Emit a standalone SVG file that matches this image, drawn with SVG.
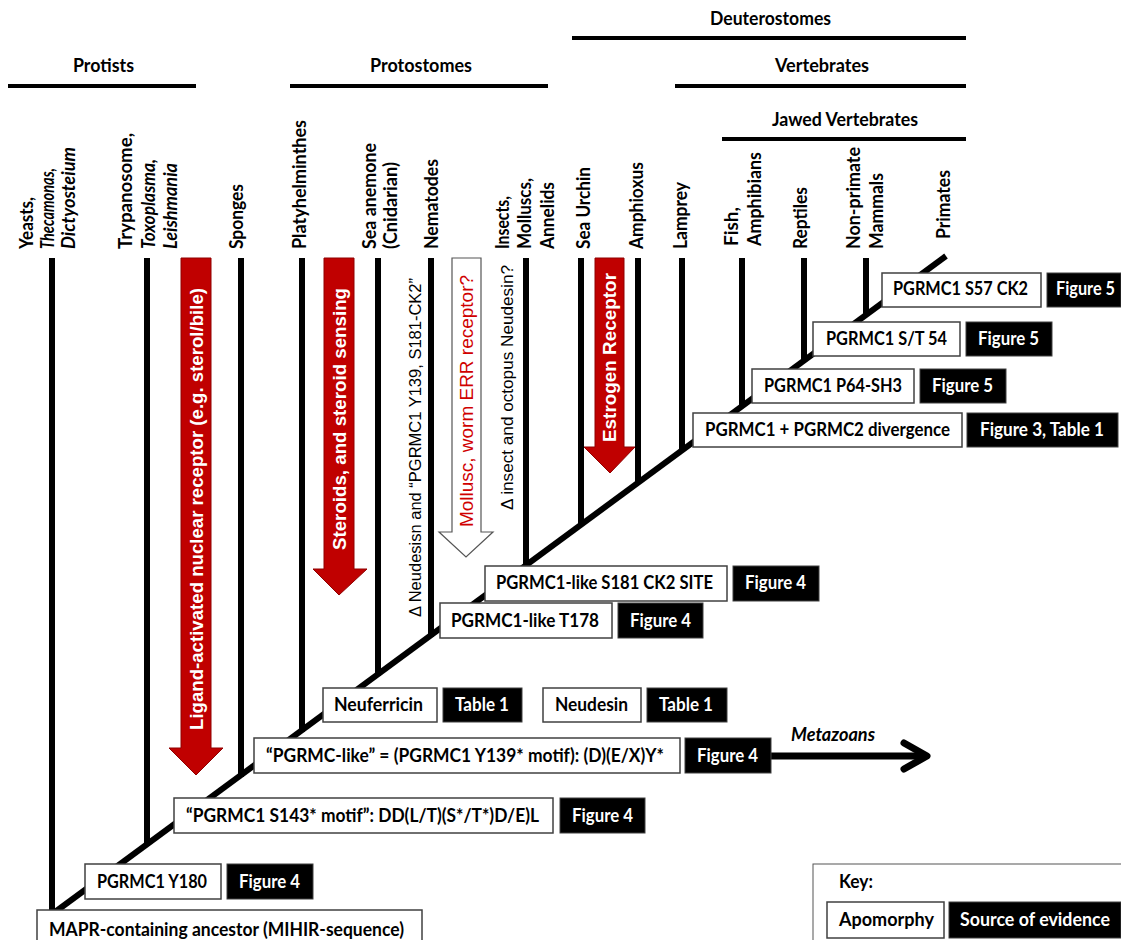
<svg xmlns="http://www.w3.org/2000/svg" width="1121" height="940" viewBox="0 0 1121 940">
<style>
.t{font-family:Lato,'Liberation Sans',sans-serif;font-weight:bold;font-size:18px;fill:#000}
.it{font-style:italic}
.w{fill:#fff}
.a{font-family:'Liberation Sans',Arial,sans-serif;font-size:18px}
.ab{font-weight:bold;fill:#fff}
.box{fill:#fff;stroke:#404040;stroke-width:1.5}
.blk{fill:#000;stroke:#404040;stroke-width:1}
.br{stroke:#000;stroke-width:6;fill:none}
.hd{stroke:#000;stroke-width:4}
.red{fill:#C00000;stroke:#900000;stroke-width:1}
</style>
<rect width="1121" height="940" fill="#fff"/>

<g id="headers">
<text class="t" x="73" y="72" textLength="61" lengthAdjust="spacingAndGlyphs">Protists</text>
<line class="hd" x1="8" y1="86" x2="196" y2="86"/>
<text class="t" x="370" y="72" textLength="102" lengthAdjust="spacingAndGlyphs">Protostomes</text>
<line class="hd" x1="290" y1="86" x2="548" y2="86"/>
<text class="t" x="710" y="25" textLength="121" lengthAdjust="spacingAndGlyphs">Deuterostomes</text>
<line class="hd" x1="572" y1="38" x2="966" y2="38"/>
<text class="t" x="775" y="72" textLength="94" lengthAdjust="spacingAndGlyphs">Vertebrates</text>
<line class="hd" x1="675" y1="86" x2="966" y2="86"/>
<text class="t" x="772" y="126" textLength="146" lengthAdjust="spacingAndGlyphs">Jawed Vertebrates</text>
<line class="hd" x1="722" y1="139" x2="966" y2="139"/>
</g>

<g id="connectors">
<line class="br" x1="55" y1="912" x2="946" y2="256"/>
<line class="br" x1="52" y1="258" x2="52" y2="914"/>
<line class="br" x1="147" y1="258" x2="147" y2="846"/>
<line class="br" x1="241" y1="258" x2="241" y2="777"/>
<line class="br" x1="302" y1="258" x2="302" y2="732"/>
<line class="br" x1="378" y1="258" x2="378" y2="676"/>
<line class="br" x1="431" y1="258" x2="431" y2="637"/>
<line class="br" x1="526" y1="258" x2="526" y2="567"/>
<line class="br" x1="581" y1="258" x2="581" y2="526"/>
<line class="br" x1="638" y1="258" x2="638" y2="484"/>
<line class="br" x1="682" y1="258" x2="682" y2="451"/>
<line class="br" x1="742" y1="258" x2="742" y2="407"/>
<line class="br" x1="804" y1="258" x2="804" y2="362"/>
<line class="br" x1="866" y1="258" x2="866" y2="316"/>
<path d="M771 756 H924" stroke="#000" stroke-width="7" fill="none"/>
<path d="M904 743 L927 756 L904 769" stroke="#000" stroke-width="7" fill="none" stroke-linecap="round" stroke-linejoin="round"/>
</g>

<g id="taxa">
<g id="yeasts">
<text class="t" transform="translate(33,249) rotate(-90)" textLength="52" lengthAdjust="spacingAndGlyphs">Yeasts,</text>
<text class="t it" transform="translate(54,249) rotate(-90)" textLength="81" lengthAdjust="spacingAndGlyphs">Thecamonas,</text>
<text class="t it" transform="translate(75,249) rotate(-90)" textLength="102" lengthAdjust="spacingAndGlyphs">Dictyosteium</text>
</g>
<g id="trypanosome">
<text class="t" transform="translate(132,249) rotate(-90)" textLength="116" lengthAdjust="spacingAndGlyphs">Trypanosome,</text>
<text class="t it" transform="translate(154.5,249) rotate(-90)" textLength="90" lengthAdjust="spacingAndGlyphs">Toxoplasma,</text>
<text class="t it" transform="translate(177,249) rotate(-90)" textLength="86" lengthAdjust="spacingAndGlyphs">Leishmania</text>
</g>
<g id="sponges"><text class="t" transform="translate(243,249) rotate(-90)" textLength="65" lengthAdjust="spacingAndGlyphs">Sponges</text></g>
<g id="platyhelminthes"><text class="t" transform="translate(306,249) rotate(-90)" textLength="129" lengthAdjust="spacingAndGlyphs">Platyhelminthes</text></g>
<g id="sea-anemone">
<text class="t" transform="translate(375.5,249) rotate(-90)" textLength="106" lengthAdjust="spacingAndGlyphs">Sea anemone</text>
<text class="t" transform="translate(397,249) rotate(-90)" textLength="87" lengthAdjust="spacingAndGlyphs">(Cnidarian)</text>
</g>
<g id="nematodes"><text class="t" transform="translate(437.5,249) rotate(-90)" textLength="90" lengthAdjust="spacingAndGlyphs">Nematodes</text></g>
<g id="insects">
<text class="t" transform="translate(509,249) rotate(-90)" textLength="53" lengthAdjust="spacingAndGlyphs">Insects,</text>
<text class="t" transform="translate(530.5,249) rotate(-90)" textLength="71" lengthAdjust="spacingAndGlyphs">Molluscs,</text>
<text class="t" transform="translate(553.5,249) rotate(-90)" textLength="67" lengthAdjust="spacingAndGlyphs">Annelids</text>
</g>
<g id="sea-urchin"><text class="t" transform="translate(590,249) rotate(-90)" textLength="82" lengthAdjust="spacingAndGlyphs">Sea Urchin</text></g>
<g id="amphioxus"><text class="t" transform="translate(643,249) rotate(-90)" textLength="87" lengthAdjust="spacingAndGlyphs">Amphioxus</text></g>
<g id="lamprey"><text class="t" transform="translate(687,249) rotate(-90)" textLength="67" lengthAdjust="spacingAndGlyphs">Lamprey</text></g>
<g id="fish">
<text class="t" transform="translate(738,246) rotate(-90)" textLength="39" lengthAdjust="spacingAndGlyphs">Fish,</text>
<text class="t" transform="translate(760.5,246) rotate(-90)" textLength="94" lengthAdjust="spacingAndGlyphs">Amphibians</text>
</g>
<g id="reptiles"><text class="t" transform="translate(807,249) rotate(-90)" textLength="62" lengthAdjust="spacingAndGlyphs">Reptiles</text></g>
<g id="mammals">
<text class="t" transform="translate(859.5,249) rotate(-90)" textLength="102" lengthAdjust="spacingAndGlyphs">Non-primate</text>
<text class="t" transform="translate(882.5,249) rotate(-90)" textLength="76" lengthAdjust="spacingAndGlyphs">Mammals</text>
</g>
<g id="primates"><text class="t" transform="translate(950,239) rotate(-90)" textLength="69" lengthAdjust="spacingAndGlyphs">Primates</text></g>
</g>

<g id="arrow-ligand">
<path class="red" d="M181 258 H211 V748 H223 L196 775 L169 748 H181 Z"/>
<text class="a ab" transform="translate(203,730) rotate(-90)" textLength="442" lengthAdjust="spacingAndGlyphs">Ligand-activated nuclear receptor (e.g.  sterol/bile)</text>
</g>
<g id="arrow-steroids">
<path class="red" d="M324 258 H354 V569 H367 L339 595 L313 569 H324 Z"/>
<text class="a ab" transform="translate(346,550) rotate(-90)" textLength="262" lengthAdjust="spacingAndGlyphs">Steroids, and steroid sensing</text>
</g>
<g id="note-neudesin">
<text class="a" style="font-size:16px" transform="translate(421,617) rotate(-90)" textLength="339" lengthAdjust="spacingAndGlyphs">Δ Neudesisn and “PGRMC1  Y139, S181-CK2”</text>
</g>
<g id="arrow-err">
<path d="M452 258 H481 V532 H493 L466 557 L439 532 H452 Z" fill="#fff" stroke="#555" stroke-width="1.2"/>
<text class="a" style="fill:#D00000" transform="translate(473,527) rotate(-90)" textLength="252" lengthAdjust="spacingAndGlyphs">Mollusc, worm ERR  receptor?</text>
</g>
<g id="note-insect">
<text class="a" style="font-size:17px" transform="translate(513,510) rotate(-90)" textLength="245" lengthAdjust="spacingAndGlyphs">Δ insect and  octopus  Neudesin?</text>
</g>
<g id="arrow-estrogen">
<path class="red" d="M595 258 H624 V447 H635 L610 473 L584 447 H595 Z"/>
<text class="a ab" transform="translate(616,442) rotate(-90)" textLength="169" lengthAdjust="spacingAndGlyphs">Estrogen Receptor</text>
</g>

<g id="node-mapr">
<rect class="box" x="37" y="910" width="385" height="40"/>
<text class="t" x="49" y="936" textLength="355" lengthAdjust="spacingAndGlyphs">MAPR-containing ancestor (MIHIR-sequence)</text>
</g>
<g id="node-y180">
<rect class="box" x="85" y="864" width="136" height="35"/>
<text class="t" x="97" y="888" textLength="110" lengthAdjust="spacingAndGlyphs">PGRMC1 Y180</text>
<rect class="blk" x="227" y="864" width="86" height="35"/>
<text class="t w" x="239" y="888" textLength="61" lengthAdjust="spacingAndGlyphs">Figure 4</text>
</g>
<g id="node-s143">
<rect class="box" x="174" y="798" width="379" height="35"/>
<text class="t" x="186" y="822" textLength="353" lengthAdjust="spacingAndGlyphs">“PGRMC1 S143* motif”: DD(L/T)(S*/T*)D/E)L</text>
<rect class="blk" x="560" y="798" width="85" height="35"/>
<text class="t w" x="572" y="822" textLength="61" lengthAdjust="spacingAndGlyphs">Figure 4</text>
</g>
<g id="node-pgrmc-like">
<rect class="box" x="254" y="738" width="426" height="35"/>
<text class="t" x="266" y="762" textLength="398" lengthAdjust="spacingAndGlyphs">“PGRMC-like” = (PGRMC1 Y139* motif): (D)(E/X)Y*</text>
<rect class="blk" x="685" y="738" width="86" height="35"/>
<text class="t w" x="697" y="762" textLength="61" lengthAdjust="spacingAndGlyphs">Figure 4</text>
</g>
<g id="node-metazoans">
<text class="t it" x="791" y="741" textLength="84" lengthAdjust="spacingAndGlyphs">Metazoans</text>
</g>
<g id="node-neuferricin">
<rect class="box" x="323" y="688" width="114" height="34"/>
<text class="t" x="334" y="711" textLength="89" lengthAdjust="spacingAndGlyphs">Neuferricin</text>
<rect class="blk" x="443" y="688" width="79" height="34"/>
<text class="t w" x="455" y="711" textLength="54" lengthAdjust="spacingAndGlyphs">Table 1</text>
</g>
<g id="node-neudesin">
<rect class="box" x="543" y="688" width="98" height="34"/>
<text class="t" x="555" y="711" textLength="73" lengthAdjust="spacingAndGlyphs">Neudesin</text>
<rect class="blk" x="647" y="688" width="80" height="34"/>
<text class="t w" x="659" y="711" textLength="54" lengthAdjust="spacingAndGlyphs">Table 1</text>
</g>
<g id="node-t178">
<rect class="box" x="440" y="603" width="172" height="35"/>
<text class="t" x="451" y="627" textLength="148" lengthAdjust="spacingAndGlyphs">PGRMC1-like  T178</text>
<rect class="blk" x="618" y="603" width="85" height="35"/>
<text class="t w" x="630" y="627" textLength="61" lengthAdjust="spacingAndGlyphs">Figure 4</text>
</g>
<g id="node-s181">
<rect class="box" x="485" y="566" width="242" height="35"/>
<text class="t" x="496" y="589" textLength="217" lengthAdjust="spacingAndGlyphs">PGRMC1-like  S181 CK2 SITE</text>
<rect class="blk" x="733" y="566" width="86" height="35"/>
<text class="t w" x="745" y="589" textLength="61" lengthAdjust="spacingAndGlyphs">Figure 4</text>
</g>
<g id="node-divergence">
<rect class="box" x="693" y="413" width="269" height="34"/>
<text class="t" x="705" y="436" textLength="245" lengthAdjust="spacingAndGlyphs">PGRMC1 + PGRMC2 divergence</text>
<rect class="blk" x="967" y="413" width="151" height="34"/>
<text class="t w" x="980" y="436" textLength="124" lengthAdjust="spacingAndGlyphs">Figure 3, Table 1</text>
</g>
<g id="node-p64">
<rect class="box" x="752" y="369" width="162" height="34"/>
<text class="t" x="764" y="392" textLength="138" lengthAdjust="spacingAndGlyphs">PGRMC1 P64-SH3</text>
<rect class="blk" x="920" y="369" width="86" height="34"/>
<text class="t w" x="932" y="392" textLength="61" lengthAdjust="spacingAndGlyphs">Figure 5</text>
</g>
<g id="node-st54">
<rect class="box" x="813" y="322" width="147" height="34"/>
<text class="t" x="826" y="345" textLength="121" lengthAdjust="spacingAndGlyphs">PGRMC1 S/T 54</text>
<rect class="blk" x="966" y="322" width="86" height="34"/>
<text class="t w" x="978" y="345" textLength="61" lengthAdjust="spacingAndGlyphs">Figure 5</text>
</g>
<g id="node-s57">
<rect class="box" x="882" y="273" width="159" height="34"/>
<text class="t" x="893" y="295" textLength="135" lengthAdjust="spacingAndGlyphs">PGRMC1 S57 CK2</text>
<rect class="blk" x="1047" y="273" width="74" height="34"/>
<text class="t w" x="1056" y="295" textLength="59" lengthAdjust="spacingAndGlyphs">Figure 5</text>
</g>

<g id="key">
<rect x="813" y="864" width="320" height="90" fill="#fff" stroke="#555" stroke-width="1"/>
<text class="t" x="839" y="888" textLength="34" lengthAdjust="spacingAndGlyphs">Key:</text>
<rect class="box" x="827" y="902" width="117" height="36"/>
<text class="t" x="839" y="926" textLength="95" lengthAdjust="spacingAndGlyphs">Apomorphy</text>
<rect class="blk" x="949" y="902" width="172" height="36"/>
<text class="t w" x="960" y="926" textLength="150" lengthAdjust="spacingAndGlyphs">Source of evidence</text>
</g>
</svg>
